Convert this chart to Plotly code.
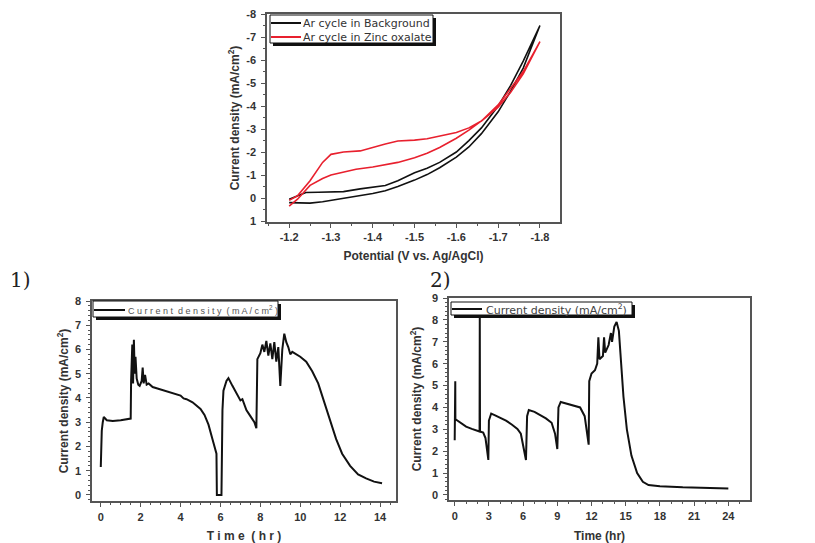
import plotly.graph_objects as go

# ---------------- data ----------------
# Cyclic voltammetry (top)
bg_x = [-1.20, -1.22, -1.25, -1.28, -1.30, -1.33, -1.36, -1.40, -1.43, -1.46, -1.50, -1.53, -1.56, -1.60, -1.63, -1.66, -1.70, -1.73, -1.76, -1.80,
        -1.76, -1.73, -1.70, -1.66, -1.63, -1.60, -1.56, -1.53, -1.50, -1.46, -1.43, -1.40, -1.37, -1.33, -1.30, -1.27, -1.24, -1.22, -1.20]
bg_y = [0.20, 0.22, 0.22, 0.16, 0.10, 0.02, -0.07, -0.20, -0.32, -0.50, -0.78, -1.02, -1.32, -1.78, -2.22, -2.80, -3.75, -4.65, -5.65, -7.50,
        -5.95, -4.90, -4.00, -3.05, -2.50, -2.00, -1.55, -1.30, -1.10, -0.75, -0.55, -0.48, -0.40, -0.28, -0.25, -0.25, -0.24, -0.10, 0.05]
zn_x = [-1.20, -1.22, -1.25, -1.28, -1.30, -1.33, -1.36, -1.40, -1.43, -1.46, -1.50, -1.53, -1.56, -1.60, -1.63, -1.66, -1.70, -1.73, -1.76, -1.80,
        -1.76, -1.73, -1.70, -1.66, -1.63, -1.60, -1.56, -1.53, -1.50, -1.46, -1.43, -1.40, -1.37, -1.33, -1.30, -1.28, -1.25, -1.22, -1.20]
zn_y = [0.35, 0.05, -0.55, -0.85, -1.00, -1.13, -1.25, -1.35, -1.45, -1.55, -1.75, -1.95, -2.20, -2.60, -2.95, -3.35, -4.05, -4.75, -5.50, -6.80,
        -5.40, -4.60, -3.95, -3.35, -3.05, -2.85, -2.68, -2.58, -2.52, -2.48, -2.35, -2.20, -2.05, -2.00, -1.90, -1.55, -0.75, -0.10, 0.10]

# Chronoamperometry 1)
t1 = [0.00, 0.02, 0.05, 0.10, 0.15, 0.30, 0.60, 1.00, 1.40, 1.50, 1.52, 1.58, 1.62, 1.66, 1.70, 1.74, 1.80, 1.88, 1.95, 2.05, 2.10, 2.15, 2.22, 2.30, 2.40,
      2.60, 2.80, 3.00, 3.20, 3.50, 3.70, 4.00, 4.15, 4.30, 4.60, 4.80, 5.00, 5.20, 5.40, 5.60, 5.80, 5.82, 6.05, 6.10, 6.15, 6.30, 6.40, 6.60, 6.70, 6.80,
      7.00, 7.10, 7.30, 7.50, 7.60, 7.70, 7.80,
      7.85, 8.00, 8.10, 8.20, 8.30, 8.40, 8.50, 8.60, 8.70, 8.80, 8.90, 9.00, 9.05, 9.10, 9.20, 9.30, 9.40, 9.50, 9.60, 9.80, 10.00, 10.30, 10.60, 10.90,
      11.20, 11.50, 11.80, 12.10, 12.50, 12.90, 13.30, 13.70, 14.10]
j1 = [1.15, 2.10, 2.65, 3.00, 3.22, 3.08, 3.05, 3.08, 3.12, 3.15, 4.70, 6.20, 4.60, 6.40, 5.00, 5.70, 4.80, 4.55, 4.50, 4.70, 5.25, 4.60, 4.95, 4.55, 4.60,
      4.45, 4.40, 4.35, 4.28, 4.22, 4.16, 4.10, 3.98, 3.95, 3.82, 3.70, 3.55, 3.30, 2.90, 2.30, 1.70, 0.00, 0.00, 3.50, 4.30, 4.70, 4.82, 4.50, 4.35, 4.20,
      3.90, 3.95, 3.50, 3.25, 3.10, 3.00, 2.75,
      5.60, 5.85, 6.20, 5.90, 6.35, 5.75, 6.25, 5.60, 6.30, 5.50, 6.10, 4.50, 5.30, 6.00, 6.65, 6.30, 6.10, 5.80, 5.90, 5.80, 5.70, 5.50, 5.10, 4.60,
      3.80, 3.00, 2.30, 1.70, 1.20, 0.85, 0.68, 0.55, 0.48]

# Chronoamperometry 2)
t2 = [0.00, 0.05, 0.06, 0.10, 0.50, 1.00, 1.50, 2.00, 2.18, 2.20, 2.22, 2.50, 2.70, 2.85, 2.95, 3.00, 3.20, 3.50, 4.00, 4.50, 5.00, 5.50, 5.80, 6.00, 6.25,
      6.35, 6.50, 7.00, 7.50, 8.00, 8.50, 8.80, 9.00, 9.10, 9.30, 10.00, 10.50, 11.00, 11.40, 11.60, 11.75, 11.80, 12.00, 12.30, 12.50, 12.60, 12.70,
      13.00, 13.10, 13.20, 13.50, 13.70, 13.80, 14.00, 14.20, 14.40, 14.60, 14.80, 15.10, 15.50, 16.00, 16.50, 17.00, 18.00, 20.00, 22.00, 24.00]
j2 = [2.50, 5.20, 3.40, 3.45, 3.30, 3.12, 3.02, 2.92, 2.90, 8.10, 2.90, 2.85, 2.60, 2.00, 1.60, 3.40, 3.72, 3.65, 3.52, 3.40, 3.22, 3.02, 2.80, 2.25, 1.60,
      3.60, 3.88, 3.80, 3.65, 3.50, 3.30, 2.80, 2.10, 4.00, 4.25, 4.15, 4.05, 4.00, 3.60, 2.70, 2.30, 5.20, 5.55, 5.70, 6.00, 7.20, 6.20,
      6.35, 7.20, 6.50, 6.85, 7.40, 7.00, 7.70, 7.90, 7.50, 6.00, 4.50, 3.00, 1.80, 1.00, 0.60, 0.45, 0.40, 0.35, 0.32, 0.30]

cv_tickvals = [-1.2, -1.3, -1.4, -1.5, -1.6, -1.7, -1.8]
cv_ticktext = ["-1.2", "-1.3", "-1.4", "-1.5", "-1.6", "-1.7", "-1.8"]
cv_ytickvals = [-8, -7, -6, -5, -4, -3, -2, -1, 0, 1]
cv_yticktext = ["-8", "-7", "-6", "-5", "-4", "-3", "-2", "-1", "0", "1"]

name_bg = "Ar cycle in Background"
name_zn = "Ar cycle in Zinc oxalate"
name_j1 = "C u r r e n t  d e n s i t y  ( m A / c m<sup>2</sup> )"
name_j2 = "Current density (mA/cm<sup>2</sup>)"

# ---------------- figure ----------------
W, H = 815, 543
def px(x): return x / W
def py(y): return 1 - y / H

FONT = "Liberation Sans, Arial, sans-serif"
BLACK = "#111111"
RED = "#e8202e"
fig = go.Figure()

fig.add_trace(go.Scatter(x=bg_x, y=bg_y, mode="lines", name=name_bg, showlegend=False,
                         line=dict(color=BLACK, width=1.6), xaxis="x", yaxis="y"))
fig.add_trace(go.Scatter(x=zn_x, y=zn_y, mode="lines", name=name_zn, showlegend=False,
                         line=dict(color=RED, width=1.6), xaxis="x", yaxis="y"))
fig.add_trace(go.Scatter(x=t1, y=j1, mode="lines", name=name_j1, showlegend=False,
                         line=dict(color=BLACK, width=2), xaxis="x2", yaxis="y2"))
fig.add_trace(go.Scatter(x=t2, y=j2, mode="lines", name=name_j2, showlegend=False,
                         line=dict(color=BLACK, width=2), xaxis="x3", yaxis="y3"))

tickfont = dict(family=FONT, size=11, color="#333333", weight="bold")
axcommon = dict(showline=True, linecolor="#555555", linewidth=1.5, mirror=True, showgrid=False, zeroline=False,
                ticks="outside", ticklen=4, tickcolor="#555555", tickwidth=1.2, automargin=False,
                minor=dict(ticks="outside", ticklen=2, tickcolor="#555555"),
                tickfont=tickfont)
titlefont = dict(family=FONT, size=12, color="#333333", weight="bold")

# ---- hand-drawn legend boxes (box with drop shadow, sample line, label) ----
shapes, annotations = [], []
def legend_box(x0, y0, x1, y1, items, font):
    shapes.append(dict(type="rect", xref="paper", yref="paper", layer="above",
                       x0=px(x0 + 3), x1=px(x1 + 3), y0=py(y1 + 3), y1=py(y0 + 3),
                       fillcolor="#111111", line=dict(width=0)))
    shapes.append(dict(type="rect", xref="paper", yref="paper", layer="above",
                       x0=px(x0), x1=px(x1), y0=py(y1), y1=py(y0),
                       fillcolor="white", line=dict(color="#111111", width=1)))
    for (ly, lx0, lx1, tx, text, color) in items:
        shapes.append(dict(type="line", xref="paper", yref="paper", layer="above",
                           x0=px(lx0), x1=px(lx1), y0=py(ly), y1=py(ly), line=dict(color=color, width=2)))
        annotations.append(dict(text=text, x=px(tx), y=py(ly), xref="paper", yref="paper",
                                xanchor="left", yanchor="middle", showarrow=False, font=font))

legend_box(270, 15, 433, 43,
           [(23, 271, 301, 301, name_bg, BLACK), (37, 271, 301, 301, name_zn, RED)],
           dict(family="DejaVu Sans, sans-serif", size=11, color="#333333"))
legend_box(93, 301, 278, 317,
           [(310, 94, 125, 126, name_j1, BLACK)],
           dict(family=FONT, size=9, color="#555555"))
legend_box(451, 302, 632, 315,
           [(309, 452, 482, 484, name_j2, BLACK)],
           dict(family="DejaVu Sans, sans-serif", size=11, color="#444444"))

annotations += [
    dict(text="1)", x=px(8), y=py(280), xref="paper", yref="paper", xanchor="left", yanchor="middle",
         showarrow=False, font=dict(family="DejaVu Serif, Liberation Serif, serif", size=20, color="#222222")),
    dict(text="2)", x=px(428), y=py(280), xref="paper", yref="paper", xanchor="left", yanchor="middle",
         showarrow=False, font=dict(family="DejaVu Serif, Liberation Serif, serif", size=20, color="#222222")),
]

fig.update_layout(
    width=W, height=H, margin=dict(l=0, r=0, t=0, b=0, autoexpand=False),
    paper_bgcolor="white", plot_bgcolor="white", showlegend=False,
    xaxis=dict(domain=[px(267), px(560)], anchor="y", range=[-1.147, -1.848],
               tickvals=cv_tickvals, ticktext=cv_ticktext, ticklabelstandoff=0,
               title=dict(text="Potential (V vs. Ag/AgCl)", font=titlefont, standoff=10), **axcommon),
    yaxis=dict(domain=[py(222), py(14)], anchor="x", range=[1.04, -8],
               tickvals=cv_ytickvals, ticktext=cv_yticktext, ticklabelstandoff=3,
               title=dict(text="Current density (mA/cm<sup>2</sup>)", font=titlefont, standoff=4), **axcommon),
    xaxis2=dict(domain=[px(92), px(396)], anchor="y2", range=[-0.44, 14.8], dtick=2, ticklabelstandoff=1,
                title=dict(text="T i m e  ( h r )", font=titlefont, standoff=11), **axcommon),
    yaxis2=dict(domain=[py(501), py(301)], anchor="x2", range=[-0.25, 8], dtick=1, ticklabelstandoff=3,
                title=dict(text="Current density (mA/cm<sup>2</sup>)", font=titlefont, standoff=4), **axcommon),
    xaxis3=dict(domain=[px(449), px(750)], anchor="y3", range=[-0.5, 25.9], dtick=3, ticklabelstandoff=1,
                title=dict(text="Time (hr)", font=titlefont, standoff=11), **axcommon),
    yaxis3=dict(domain=[py(500), py(298)], anchor="x3", range=[-0.23, 9.0], dtick=1, ticklabelstandoff=3,
                title=dict(text="Current density (mA/cm<sup>2</sup>)", font=titlefont, standoff=8), **axcommon),
    shapes=shapes,
    annotations=annotations,
)
# remove the default 8px page margin so the 815x543 figure fills the window exactly
fig.write_html("out.html", config={"displayModeBar": False},
               post_script="document.body.style.margin='0';document.body.style.overflow='hidden';")
